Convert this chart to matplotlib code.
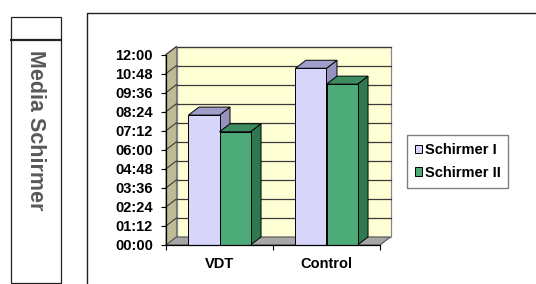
import matplotlib.pyplot as plt
from matplotlib.patches import Polygon, Rectangle, Patch
from matplotlib.lines import Line2D

categories = ['VDT', 'Control']
series = ['Schirmer I', 'Schirmer II']
# values in minutes (axis shows hh:mm)
schirmer_1 = [491, 668]
schirmer_2 = [428, 608]
yticks = list(range(0, 721, 72))
ytick_labels = ['%02d:%02d' % (m // 60, m % 60) for m in yticks]

front_colors = ['#D8D5FA', '#4DAA79']
top_colors = ['#A29ECB', '#3D8C60']
side_colors = ['#9792C0', '#2F7850']

plt.rcParams['font.family'] = ['Liberation Sans', 'DejaVu Sans']
plt.rcParams['font.weight'] = 'bold'
plt.rcParams['font.size'] = 10.5

W, H = 536, 284
fig = plt.figure(figsize=(W / 100, H / 100), dpi=100)


def fx(px):
    return px / W


def fy(py):
    return 1 - py / H


# page decoration: side box with vertical title and frame round the chart
fig.add_artist(Rectangle((fx(11), fy(283)), fx(50), 266 / H, transform=fig.transFigure,
                         fill=False, edgecolor='#222222', lw=0.9))
fig.add_artist(Line2D([fx(11), fx(61)], [fy(40), fy(40)], transform=fig.transFigure,
                      color='#222222', lw=1.6))
fig.text(fx(35), fy(130), 'Media Schirmer', rotation=-90, ha='center', va='center',
         fontsize=15.5, fontweight='bold', color='#595959')
fig.add_artist(Line2D([fx(87), fx(87), fx(536)], [fy(284), fy(13), fy(13)],
                      transform=fig.transFigure, color='#222222', lw=1.0))

ax = fig.add_axes([fx(166), fy(245), 214 / W, 190.5 / H])
ax.set_xlim(-0.5, 1.5)
ax.set_ylim(0, 720)
ax.patch.set_visible(False)

# depth offset for the 3d look, in data units
dx = 10.5 / 214 * 2
dy = 8 / 190.5 * 720
x0, x1 = -0.5, 1.5

# walls and floor
ax.add_patch(Polygon([(x0 + dx, dy), (x1 + dx, dy), (x1 + dx, 720 + dy), (x0 + dx, 720 + dy)],
                     facecolor='#FFFFD6', edgecolor='#888888', lw=0.9, clip_on=False, zorder=0))
ax.add_patch(Polygon([(x0, 0), (x0 + dx, dy), (x0 + dx, 720 + dy), (x0, 720)],
                     facecolor='#BFBC95', edgecolor='#777777', lw=0.8, clip_on=False, zorder=0))
ax.add_patch(Polygon([(x0, 0), (x1, 0), (x1 + dx, dy), (x0 + dx, dy)],
                     facecolor='#A6A6A6', edgecolor='#555555', lw=0.8, clip_on=False, zorder=0))

for v in yticks[1:]:
    ax.plot([x0 + dx, x1 + dx], [v + dy, v + dy], color='#3A3A3A', lw=0.9, clip_on=False, zorder=1)
    ax.plot([x0, x0 + dx], [v, v + dy], color='#3A3A3A', lw=0.8, clip_on=False, zorder=1)

# bars
w = 0.29
z = 2
for i in range(len(categories)):
    for j, vals in enumerate([schirmer_1, schirmer_2]):
        h = vals[i]
        b = i - w + j * w
        ax.add_patch(Polygon([(b + w, 0), (b + w + dx, dy), (b + w + dx, h + dy), (b + w, h)],
                             facecolor=side_colors[j], edgecolor='black', lw=0.7,
                             clip_on=False, zorder=z))
        ax.add_patch(Polygon([(b, h), (b + w, h), (b + w + dx, h + dy), (b + dx, h + dy)],
                             facecolor=top_colors[j], edgecolor='black', lw=0.7,
                             clip_on=False, zorder=z))
        ax.add_patch(Rectangle((b, 0), w, h, facecolor=front_colors[j], edgecolor='black',
                               lw=0.7, clip_on=False, zorder=z + 0.5))
        z += 1

for s in ['top', 'right']:
    ax.spines[s].set_visible(False)
for s in ['left', 'bottom']:
    ax.spines[s].set_color('black')
    ax.spines[s].set_linewidth(0.9)
    ax.spines[s].set_zorder(10)

ax.set_yticks(yticks, ytick_labels)
ax.tick_params(axis='y', length=3.5, width=0.8, pad=6)
ax.set_xticks([-0.5, 0.5, 1.5], ['', '', ''])
ax.set_xticks([0, 1], categories, minor=True)
ax.tick_params(axis='x', which='major', length=3.5, width=0.8)
ax.tick_params(axis='x', which='minor', length=0, pad=9)

handles = [Patch(facecolor=c, edgecolor='black', lw=0.7) for c in front_colors]
fig.legend(handles, series, loc='upper left', bbox_to_anchor=(fx(407), fy(135)),
           frameon=True, fancybox=False, edgecolor='#808080', framealpha=1,
           handlelength=0.5, handleheight=0.5, handletextpad=0.15, borderpad=0.55,
           labelspacing=0.6, borderaxespad=0, prop={'weight': 'bold', 'size': 10.5})

fig.savefig('out.png', dpi=100)
